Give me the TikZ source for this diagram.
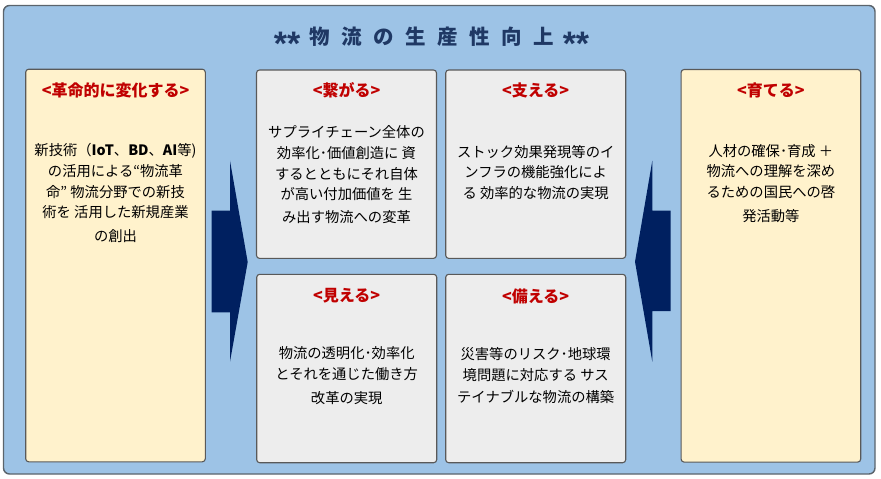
\documentclass[tikz,border=0pt]{standalone}
\usepackage{fontspec}
\setmainfont{Noto Sans CJK JP}
\newfontfamily\astfont{Liberation Sans}
\definecolor{panelfill}{HTML}{9DC3E6}
\definecolor{paneldraw}{HTML}{5B646C}
\definecolor{yelfill}{HTML}{FFF2CC}
\definecolor{grayfill}{HTML}{EDEDED}
\definecolor{boxdraw}{HTML}{595959}
\definecolor{headred}{HTML}{C00000}
\definecolor{navy}{HTML}{002060}
\definecolor{titlecol}{HTML}{1F3864}
\newcommand\mytitlespacing{\spaceskip=11.5pt\relax}
\newcommand\myasts{\raisebox{-10.5pt}[0pt][0pt]{\astfont\bfseries\fontsize{34}{34}\selectfont **}}
\tikzset{
  panelbox/.style={draw=paneldraw, fill=panelfill, line width=1.4pt, rounded corners=6pt},
  cardbox/.style={draw=boxdraw, line width=1.1pt, rounded corners=3pt, inner sep=0pt},
  yelcard/.style={cardbox, fill=yelfill, minimum width=179.6pt, minimum height=392.6pt},
  graycard/.style={cardbox, fill=grayfill, minimum width=180pt, minimum height=188.4pt},
  headtext/.style={text=headred, font=\fontsize{16}{16}\selectfont\bfseries, inner sep=0pt},
  bodytext/.style={text=black, align=center, inner sep=0pt, font=\fontsize{14.3}{20.6}\selectfont},
  titletext/.style={text=titlecol, inner sep=0pt, font=\fontsize{20.5}{20.5}\selectfont\bfseries\mytitlespacing},
  blockarrow/.style={fill=navy, draw=none}
}
\begin{document}
\begin{tikzpicture}[x=1pt,y=-1pt]
\useasboundingbox (0,0) rectangle (881,479);
\node[panelbox, minimum width=871.5pt, minimum height=468.5pt, inner sep=0pt] (panel) at (439.25,239.75) {};
\node[titletext] (title) at (431.5,37) {\myasts\hspace{9pt}物 流 の 生 産 性 向 上\hspace{9pt}\myasts};

% cards
\node[yelcard] (revo) at (115.5,265.5) {};
\node[graycard] (conn) at (346.5,164.2) {};
\node[graycard] (supp) at (535.7,164.2) {};
\node[graycard] (see) at (346.7,368.5) {};
\node[graycard] (prep) at (535.7,368.5) {};
\node[yelcard] (grow) at (770.9,265.8) {};

% headings
\node[headtext] (revoH) at (115.5,90.5) {<革命的に変化する>};
\node[headtext] (connH) at (346.5,90.5) {<繋がる>};
\node[headtext] (suppH) at (535.7,90.5) {<支える>};
\node[headtext] (seeH) at (346.7,296) {<見える>};
\node[headtext] (prepH) at (535.7,296) {<備える>};
\node[headtext] (growH) at (770.9,90.5) {<育てる>};

% bodies
\node[bodytext] (revoT) at (115.5,193) {新技術（\textbf{IoT}、\textbf{BD}、\textbf{AI}等)\\の活用による“物流革\\命” 物流分野での新技\\術を 活用した新規産業\\[3pt]の創出};
\node[bodytext] (connT) at (346.5,175) {サプライチェーン全体の\\効率化･価値創造に 資\\するとともにそれ自体\\が高い付加価値を 生\\[2.5pt]み出す物流への変革};
\node[bodytext] (suppT) at (535.7,172.5) {ストック効果発現等のイ\\ンフラの機能強化によ\\る 効率的な物流の実現};
\node[bodytext] (growT) at (770.9,183.3) {人材の確保･育成 ＋\\物流への理解を深め\\るための国民への啓\\[3pt]発活動等};
\node[bodytext] (seeT) at (346.7,375.8) {物流の透明化･効率化\\とそれを通じた働き方\\[4pt]改革の実現};
\node[bodytext] (prepT) at (535.7,375.8) {災害等のリスク･地球環\\境問題に対応する サス\\[2pt]テイナブルな物流の構築};

% block arrows
\fill[blockarrow] (211.7,210.7) -- (230,210.7) -- (230,160.7) -- (247.7,262) -- (230,361.7) -- (230,312.3) -- (211.7,312.3) -- cycle;
\fill[blockarrow] (670.7,210.7) -- (652.3,210.7) -- (652.3,160.7) -- (635,261.7) -- (652.3,361.7) -- (652.3,311) -- (670.7,311) -- cycle;
\end{tikzpicture}
\end{document}
